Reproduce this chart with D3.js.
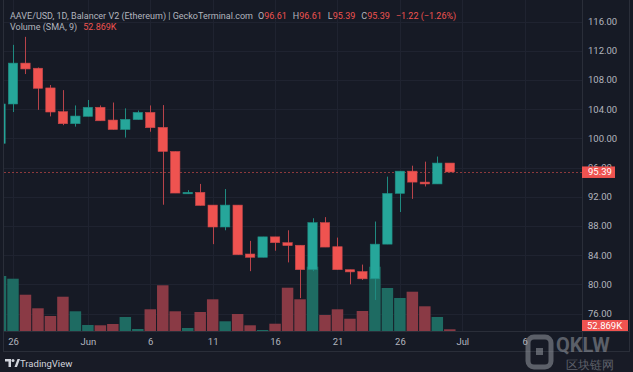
<!DOCTYPE html>
<html>
<head>
<meta charset="utf-8">
<script src="https://cdn.jsdelivr.net/npm/d3@7/dist/d3.min.js"></script>
<style>
html, body { margin: 0; padding: 0; background: #161a25; overflow: hidden; }
text { font-family: Roboto, "Liberation Sans", sans-serif; }
</style>
</head>
<body>
<div id="chart"></div>
<script>
// daily candles
var dates = ["2024-05-25","2024-05-26","2024-05-27","2024-05-28","2024-05-29","2024-05-30","2024-05-31",
  "2024-06-01","2024-06-02","2024-06-03","2024-06-04","2024-06-05","2024-06-06","2024-06-07","2024-06-08",
  "2024-06-09","2024-06-10","2024-06-11","2024-06-12","2024-06-13","2024-06-14","2024-06-15","2024-06-16",
  "2024-06-17","2024-06-18","2024-06-19","2024-06-20","2024-06-21","2024-06-22","2024-06-23","2024-06-24",
  "2024-06-25","2024-06-26","2024-06-27","2024-06-28","2024-06-29","2024-06-30"];
var opens  = [99.3,104.7,110.3,109.6,106.9,103.65,102.0,103.0,104.25,102.5,101.2,102.55,103.55,101.5,98.2,
  92.4,92.6,90.85,87.85,90.85,84.15,83.7,86.5,85.7,85.35,82.0,88.45,85.15,82.0,81.75,80.75,85.5,92.45,95.5,94.0,93.75,96.61];
var highs  = [104.9,112.8,113.9,109.7,107.3,106.6,104.5,105.25,104.5,104.9,104.1,103.8,104.5,104.55,98.2,
  92.9,93.75,90.85,93.05,90.85,85.95,86.5,86.5,87.4,85.35,89.05,89.2,86.4,82.0,82.7,88.6,94.75,95.5,96.25,96.8,97.5,96.61];
var lows   = [99.1,103.6,108.8,103.9,103.0,101.8,101.6,103.0,102.4,101.2,100.1,102.55,100.9,90.9,92.5,
  92.4,90.8,85.5,87.4,84.05,81.8,83.7,84.6,83.0,78.1,81.8,85.1,82.0,80.0,80.6,77.85,85.5,89.9,91.7,93.4,93.75,95.39];
var closes = [104.7,110.3,109.5,106.85,103.6,102.0,103.05,104.25,102.4,101.2,102.6,103.55,101.45,98.2,92.5,
  92.6,90.8,87.85,90.85,84.05,83.7,86.5,85.7,85.3,82.0,88.45,85.1,82.0,81.7,80.75,85.5,92.45,95.5,94.0,93.75,96.61,95.39];
// volume in thousands
var volumes = [1705,1621,1125,704,465,1063,611,186,177,217,434,62,673,1417,611,93,589,983,301,527,177,31,226,
  1342,983,1993,496,673,381,620,1993,1333,1023,1218,766,434,52.869];

var priceTicks = [76,80,84,88,92,96,100,104,108,112,116];
var timeTicks = ["2024-05-26","2024-06-01","2024-06-06","2024-06-11","2024-06-16","2024-06-21","2024-06-26","2024-07-01","2024-07-06"];
var lastPrice = 95.39;
var lastVolume = "52.869K";

var W = 633, H = 372;
var plotLeft = 4, plotRight = 582, plotTop = 0, plotBottom = 331;
var upColor = "#26a69a", downColor = "#ef5350";
var upVol = "#1e6b62", downVol = "#8a3a45";
var textColor = "#b2b5be", gridColor = "#1f2330";
var fs = 9.5;

var parse = d3.utcParse("%Y-%m-%d");
var rows = dates.map(function(d, i) {
  return {date: parse(d), o: opens[i], h: highs[i], l: lows[i], c: closes[i], v: volumes[i]};
});

var x = d3.scaleUtc()
  .domain([parse("2024-05-26"), parse("2024-06-30")])
  .range([13, 449.8]);
var step = x(parse("2024-05-27")) - x(parse("2024-05-26"));

var y = d3.scaleLinear().domain([76, 116]).range([313.5, 21.5]);
var yVol = d3.scaleLinear().domain([0, 2000]).range([plotBottom, plotBottom - 2000 / 31]);

var svg = d3.select("#chart").append("svg")
  .attr("width", W)
  .attr("height", H);

svg.append("rect").attr("width", W).attr("height", H).attr("fill", "#161a25");
svg.append("rect").attr("x", 0).attr("y", 352).attr("width", W).attr("height", 20).attr("fill", "#181b26");

svg.append("clipPath").attr("id", "plotClip")
  .append("rect")
  .attr("x", plotLeft).attr("y", plotTop)
  .attr("width", plotRight - plotLeft).attr("height", plotBottom - plotTop);

// grid
var grid = svg.append("g").attr("clip-path", "url(#plotClip)");
grid.selectAll(".hg").data(priceTicks).enter().append("line")
  .attr("x1", plotLeft).attr("x2", plotRight)
  .attr("y1", function(d) { return Math.round(y(d)) + 0.5; })
  .attr("y2", function(d) { return Math.round(y(d)) + 0.5; })
  .attr("stroke", gridColor);
grid.selectAll(".vg").data(timeTicks).enter().append("line")
  .attr("x1", function(d) { return Math.round(x(parse(d))) + 0.5; })
  .attr("x2", function(d) { return Math.round(x(parse(d))) + 0.5; })
  .attr("y1", plotTop).attr("y2", plotBottom)
  .attr("stroke", gridColor);

var plot = svg.append("g").attr("clip-path", "url(#plotClip)");

// volume
plot.selectAll(".vol").data(rows).enter().append("rect")
  .attr("x", function(d) { return x(d.date) - step / 2 + 0.5; })
  .attr("width", step - 1)
  .attr("y", function(d) { return yVol(d.v); })
  .attr("height", function(d) { return plotBottom - yVol(d.v); })
  .attr("fill", function(d) { return d.c >= d.o ? upVol : downVol; });

// last price line
plot.append("line")
  .attr("x1", plotLeft).attr("x2", plotRight)
  .attr("y1", Math.round(y(lastPrice)) + 0.5).attr("y2", Math.round(y(lastPrice)) + 0.5)
  .attr("stroke", downColor).attr("stroke-opacity", 0.55)
  .attr("stroke-dasharray", "2,2");

// wicks
plot.selectAll(".wick").data(rows).enter().append("line")
  .attr("x1", function(d) { return Math.round(x(d.date)) + 0.5; })
  .attr("x2", function(d) { return Math.round(x(d.date)) + 0.5; })
  .attr("y1", function(d) { return y(d.h); })
  .attr("y2", function(d) { return y(d.l); })
  .attr("stroke", function(d) { return d.c >= d.o ? "#1f8a80" : "#b8434a"; })
  .attr("stroke-width", 1);

// bodies
var bw = step * 0.75;
plot.selectAll(".body").data(rows).enter().append("rect")
  .attr("x", function(d) { return x(d.date) - bw / 2; })
  .attr("width", bw)
  .attr("y", function(d) { return y(Math.max(d.o, d.c)); })
  .attr("height", function(d) { return Math.max(1.5, Math.abs(y(d.o) - y(d.c))); })
  .attr("fill", function(d) { return d.c >= d.o ? upColor : downColor; })
  .attr("stroke", function(d) { return d.c >= d.o ? "#1f8a80" : "#c9474a"; })
  .attr("stroke-width", 0.6);

// borders
svg.append("line").attr("x1", plotRight + 0.5).attr("x2", plotRight + 0.5)
  .attr("y1", 0).attr("y2", 351).attr("stroke", "#2a2e39");
svg.append("line").attr("x1", 3.5).attr("x2", 3.5)
  .attr("y1", 0).attr("y2", 351).attr("stroke", "#2a2e39");
svg.append("line").attr("x1", 3).attr("x2", 630)
  .attr("y1", plotBottom + 0.5).attr("y2", plotBottom + 0.5).attr("stroke", "#2a2e39");
svg.append("line").attr("x1", 3).attr("x2", 630)
  .attr("y1", 351.5).attr("y2", 351.5).attr("stroke", "#2a2e39");
svg.append("line").attr("x1", 629.5).attr("x2", 629.5)
  .attr("y1", 0).attr("y2", 351).attr("stroke", "#2a2e39");

// price axis
var yAxis = svg.append("g")
  .attr("transform", "translate(" + plotRight + ",0)")
  .call(d3.axisRight(y).tickValues(priceTicks).tickFormat(d3.format(".2f")).tickSize(0).tickPadding(6));
yAxis.select(".domain").remove();
yAxis.selectAll("text").attr("fill", textColor).attr("font-size", fs);

// time axis
var fmtTick = function(d) {
  if (d.getUTCDate() == 1) return d3.utcFormat("%b")(d);
  return d.getUTCDate();
};
var xAxis = svg.append("g")
  .attr("transform", "translate(0," + plotBottom + ")")
  .call(d3.axisBottom(x).tickValues(timeTicks.map(parse)).tickFormat(fmtTick).tickSize(0).tickPadding(7.5));
xAxis.select(".domain").remove();
xAxis.selectAll("text").attr("fill", textColor).attr("font-size", fs);

// last price label
var ly = y(lastPrice);
svg.append("rect").attr("x", plotRight).attr("y", ly - 5.5).attr("width", 33).attr("height", 11.5)
  .attr("fill", downColor);
svg.append("text").attr("x", plotRight + 6).attr("y", ly).attr("dy", "0.35em")
  .attr("fill", "#ffffff").attr("font-size", fs).text(d3.format(".2f")(lastPrice));

// last volume label
svg.append("rect").attr("x", plotRight).attr("y", 320).attr("width", 46).attr("height", 11)
  .attr("fill", downColor);
svg.append("text").attr("x", plotRight + 5).attr("y", 325.5).attr("dy", "0.35em")
  .attr("fill", "#ffffff").attr("font-size", fs).text(lastVolume);

// legend lines
var last = rows[rows.length - 1];
var prev = rows[rows.length - 2];
var chg = last.c - prev.c;
var head = svg.append("text").attr("x", 10).attr("y", 19).attr("font-size", 9).attr("fill", textColor);
head.append("tspan").text("AAVE/USD, 1D, Balancer V2 (Ethereum) | GeckoTerminal.com");
head.append("tspan").attr("dx", 5).text("O");
head.append("tspan").attr("fill", downColor).text(d3.format(".2f")(last.o));
head.append("tspan").attr("dx", 6).text("H");
head.append("tspan").attr("fill", downColor).text(d3.format(".2f")(last.h));
head.append("tspan").attr("dx", 6).text("L");
head.append("tspan").attr("fill", downColor).text(d3.format(".2f")(last.l));
head.append("tspan").attr("dx", 6).text("C");
head.append("tspan").attr("fill", downColor).text(d3.format(".2f")(last.c));
head.append("tspan").attr("dx", 6).attr("fill", downColor)
  .text("\u2212" + d3.format(".2f")(-chg) + " (\u2212" + d3.format(".2f")(-chg / prev.c * 100) + "%)");

var vol = svg.append("text").attr("x", 10).attr("y", 30).attr("font-size", 9).attr("fill", textColor);
vol.append("tspan").text("Volume (SMA, 9)");
vol.append("tspan").attr("dx", 6).attr("fill", downColor).text(lastVolume);

// TradingView footer
var logo = svg.append("g").attr("transform", "translate(5,359)").attr("fill", "#d1d4dc");
logo.append("path").attr("d", "M0 0 H6 V8 H3.5 V2.5 H0 Z");
logo.append("circle").attr("cx", 8).attr("cy", 1.5).attr("r", 1.5);
logo.append("path").attr("d", "M9.5 8 L12.5 0 H15 L12 8 Z");
svg.append("text").attr("x", 20).attr("y", 367).attr("font-size", 9.5).attr("fill", "#d1d4dc")
  .text("TradingView");

// watermark
var wm = svg.append("g").attr("opacity", 0.5);
wm.append("rect").attr("x", 528).attr("y", 337).attr("width", 23).attr("height", 30).attr("rx", 6)
  .attr("fill", "none").attr("stroke", "#a0a4ab").attr("stroke-width", 5);
wm.append("rect").attr("x", 536).attr("y", 348).attr("width", 7).attr("height", 7)
  .attr("fill", "#a0a4ab");
wm.append("text").attr("x", 556).attr("y", 352).attr("font-size", 20).attr("font-weight", "bold")
  .attr("fill", "#a0a4ab").text("QKLW");
wm.append("text").attr("x", 566).attr("y", 369).attr("font-size", 12)
  .attr("font-family", "'Noto Sans CJK SC', sans-serif").attr("fill", "#a0a4ab").text("区块链网");
</script>
</body>
</html>
